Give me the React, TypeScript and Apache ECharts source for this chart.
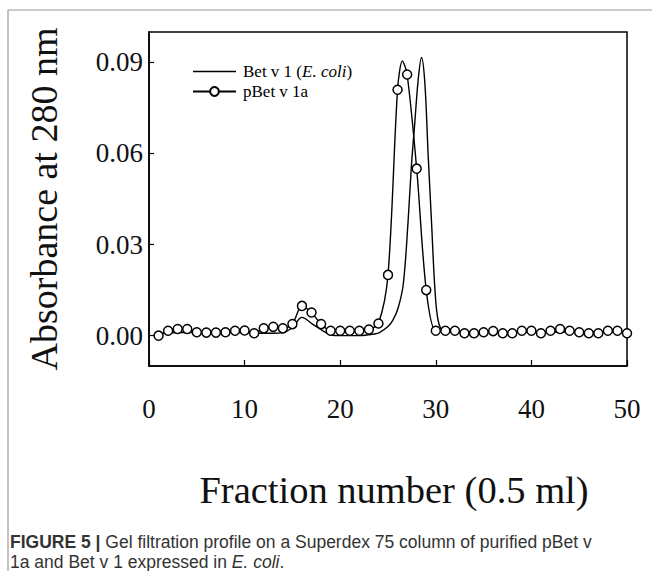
import React, { useEffect, useRef } from "react";
import * as echarts from "echarts";

// pBet v 1a: circles at every fraction
const fractions = [
  1, 2, 3, 4, 5, 6, 7, 8, 9, 10, 11, 12, 13, 14, 15, 16, 17, 18, 19, 20, 21, 22, 23, 24, 25,
  26, 27, 28, 29, 30, 31, 32, 33, 34, 35, 36, 37, 38, 39, 40, 41, 42, 43, 44, 45, 46, 47, 48, 49, 50,
];
const pBetValues = [
  0.0, 0.0016, 0.0022, 0.0022, 0.0011, 0.001, 0.001, 0.0011, 0.0016, 0.0017,
  0.0008, 0.0024, 0.0029, 0.0024, 0.0038, 0.0098, 0.0076, 0.0038, 0.0016, 0.0016,
  0.0016, 0.0016, 0.002, 0.004, 0.02, 0.081, 0.086, 0.055, 0.015, 0.0016,
  0.0016, 0.0016, 0.0008, 0.0008, 0.0011, 0.0015, 0.0008, 0.0008, 0.0016, 0.0016,
  0.0008, 0.0016, 0.0022, 0.0016, 0.0011, 0.0008, 0.0008, 0.0016, 0.0016, 0.0008,
];
// apex of the pBet v 1a trace (between fractions 26 and 27, no marker)
const pBetPeakX = 26.5;
const pBetPeakY = 0.0905;

// Bet v 1 (E. coli): continuous trace
const betX = [
  0.5, 1, 3, 5, 7, 9, 11, 12, 13, 14, 15, 16, 17.1, 18.2, 19, 20, 22, 23.7, 24.1, 25,
  25.5, 26.05, 26.6, 27.1, 27.45, 27.8, 28.15, 28.5, 28.85, 29.2, 29.55, 29.9, 30.25,
  30.8, 32, 35, 40, 45, 50,
];
const betY = [
  0.0, 0.0005, 0.001, 0.001, 0.001, 0.001, 0.0008, 0.0008, 0.0008, 0.001, 0.0027, 0.006,
  0.0038, 0.0016, 0.0003, 0.0, 0.0, 0.0006, 0.001, 0.003, 0.005, 0.009, 0.017, 0.0376,
  0.056, 0.07, 0.084, 0.0916, 0.0834, 0.0595, 0.0376, 0.0157, 0.0049, 0.0016, 0.0012,
  0.0012, 0.0012, 0.0012, 0.0012,
];

const yTicks = [0, 0.03, 0.06, 0.09];

const SERIF = "'Liberation Serif', 'Times New Roman', serif";
const SANS = "'Liberation Sans', Arial, sans-serif";

export default function App() {
  const ref = useRef<HTMLDivElement>(null);

  useEffect(() => {
    if (!ref.current) return;
    const chart = echarts.init(ref.current, null, { renderer: "svg" });

    const pBetData: any[] = [];
    fractions.forEach((f, i) => {
      if (f === 27) {
        pBetData.push({ value: [pBetPeakX, pBetPeakY], symbol: "none" });
      }
      pBetData.push([f, pBetValues[i]]);
    });
    const betData = betX.map((x, i) => [x, betY[i]]);

    chart.setOption({
      animation: false,
      backgroundColor: "#fff",
      textStyle: { fontFamily: SERIF },
      grid: {
        left: 149,
        top: 32,
        width: 478,
        height: 334,
        show: true,
        borderColor: "#000",
        borderWidth: 1.5,
        backgroundColor: "transparent",
      },
      legend: {
        orient: "vertical",
        left: 192,
        top: 63,
        padding: 0,
        itemWidth: 43,
        itemHeight: 11,
        itemGap: 3,
        symbolKeepAspect: true,
        data: [
          { name: "Bet v 1 (E. coli)", icon: "path://M0,0L43,0L43,1.5L0,1.5Z" },
          { name: "pBet v 1a" },
        ],
        formatter: (name: string) =>
          name === "Bet v 1 (E. coli)" ? "Bet v 1 ({i|E. coli})" : name,
        textStyle: {
          fontFamily: SERIF,
          fontSize: 17,
          color: "#000",
          padding: [0, 0, 0, 2],
          rich: {
            i: { fontFamily: SERIF, fontSize: 17, fontStyle: "italic", color: "#000" },
          },
        },
      },
      xAxis: {
        type: "value",
        min: 0,
        max: 50,
        interval: 10,
        name: "Fraction number (0.5 ml)",
        nameLocation: "middle",
        nameGap: 104,
        nameTextStyle: {
          fontFamily: SERIF,
          fontSize: 38.5,
          color: "#111",
          padding: [0, 0, 0, 12],
        },
        axisLine: { onZero: false, lineStyle: { color: "#000", width: 1.5 } },
        axisTick: { inside: true, length: 6, lineStyle: { color: "#000", width: 1.2 } },
        axisLabel: { fontFamily: SERIF, fontSize: 27, color: "#111", margin: 29 },
        splitLine: { show: false },
      },
      yAxis: {
        type: "value",
        min: -0.01,
        max: 0.1,
        name: "Absorbance at 280 nm",
        nameLocation: "middle",
        nameRotate: 90,
        nameGap: 86,
        nameTextStyle: { fontFamily: SERIF, fontSize: 38, color: "#111" },
        axisLine: { show: true, onZero: false, lineStyle: { color: "#000", width: 1.5 } },
        axisTick: {
          show: true,
          inside: true,
          length: 5,
          customValues: yTicks,
          lineStyle: { color: "#000", width: 1.2 },
        },
        axisLabel: {
          fontFamily: SERIF,
          fontSize: 27,
          color: "#111",
          margin: 6,
          customValues: yTicks,
          formatter: (v: number) => v.toFixed(2),
        },
        splitLine: { show: false },
      },
      series: [
        {
          name: "Bet v 1 (E. coli)",
          type: "line",
          data: betData,
          smooth: 0.35,
          symbol: "none",
          itemStyle: { color: "#000" },
          lineStyle: { color: "#000", width: 1.4 },
          z: 2,
        },
        {
          name: "pBet v 1a",
          type: "line",
          data: pBetData,
          smooth: 0.3,
          symbol: "circle",
          symbolSize: 9,
          showAllSymbol: true,
          itemStyle: { color: "#fff", borderColor: "#000", borderWidth: 1.5 },
          lineStyle: { color: "#000", width: 1.4 },
          z: 3,
        },
      ],
      graphic: [
        {
          type: "line",
          silent: true,
          shape: { x1: 8, y1: 10, x2: 652, y2: 10 },
          style: { stroke: "#9a9a9a", lineWidth: 1.2 },
        },
        {
          type: "line",
          silent: true,
          shape: { x1: 8, y1: 10, x2: 8, y2: 571 },
          style: { stroke: "#9a9a9a", lineWidth: 1.2 },
        },
        {
          type: "text",
          left: 10,
          top: 533,
          style: {
            text: "{b|FIGURE 5 |} Gel filtration profile on a Superdex 75 column of purified pBet v",
            fontFamily: SANS,
            fontSize: 17.5,
            fill: "#333",
            rich: {
              b: { fontFamily: SANS, fontSize: 17.5, fontWeight: "bold", fill: "#333" },
            },
          },
        },
        {
          type: "text",
          left: 10,
          top: 553,
          style: {
            text: "1a and Bet v 1 expressed in {i|E. coli}.",
            fontFamily: SANS,
            fontSize: 17.5,
            fill: "#333",
            rich: {
              i: { fontFamily: SANS, fontSize: 17.5, fontStyle: "italic", fill: "#333" },
            },
          },
        },
      ],
    });

    return () => chart.dispose();
  }, []);

  return (
    <div
      ref={ref}
      style={{ position: "fixed", left: 0, top: 0, width: 652, height: 571, background: "#fff" }}
    />
  );
}
